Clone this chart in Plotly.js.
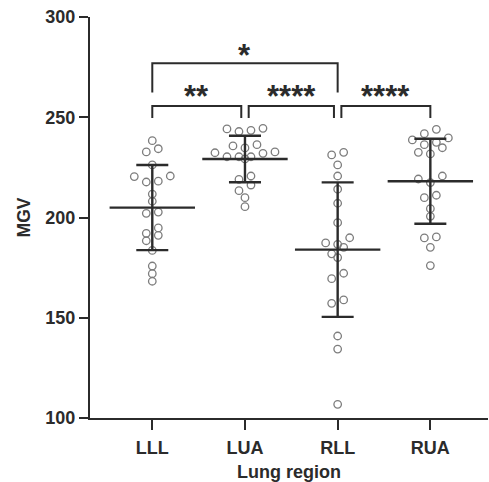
<!DOCTYPE html>
<html>
<head>
<meta charset="utf-8">
<script src="https://cdn.plot.ly/plotly-3.0.1.min.js"></script>
<style>
  html, body { margin: 0; padding: 0; background: #fff; }
  #chart { width: 489px; height: 482px; }
</style>
</head>
<body>
<div id="chart"></div>
<script>
// ---- data ----
const categories = ['LLL', 'LUA', 'RLL', 'RUA'];
const lllValues = [238.3, 232.7, 234.3, 226.2, 220.4, 217.7, 218.1, 220.7, 211.7, 208.1,
                   202.7, 202.1, 194.8, 191.1, 192.1, 188.4, 183.6, 175.8, 172.0, 168.2];
const luaValues = [243.5, 242.9, 244.2, 244.5, 235.7, 232.0, 234.7, 230.3, 236.3, 232.7,
                   230.3, 229.2, 230.3, 232.3, 219.0, 220.7, 216.2, 213.4, 209.9, 205.4];
const rllValues = [231.2, 232.5, 226.2, 220.7, 214.1, 207.1, 197.4, 189.9, 186.6, 181.9,
                   187.3, 185.1, 180.0, 172.2, 169.5, 158.9, 157.2, 140.9, 134.4, 106.8];
const ruaValues = [244.0, 241.8, 237.5, 238.7, 239.7, 236.3, 234.8, 231.7, 232.5, 220.7,
                   217.4, 219.2, 209.9, 211.1, 204.4, 200.6, 189.8, 190.3, 185.1, 176.0];
// significance comparisons: from index, to index, label, bracket level
const compFrom   = [0, 1, 2, 0];
const compTo     = [1, 2, 3, 2];
const compLabel  = ['**', '****', '****', '*'];
const compLevel  = [0, 0, 0, 1];

const groups = [lllValues, luaValues, rllValues, ruaValues];

// ---- styling / layout constants ----
const FONT = 'Liberation Sans, Arial, Helvetica, sans-serif';
const INK = '#2b2b2b';
const DOT = '#7d7d7d';
const X_RANGE = [-0.672, 3.622];
const PLOT_W = 489 - 90 - 1;
const PX_PER_X = PLOT_W / (X_RANGE[1] - X_RANGE[0]);
const SLOT_PX = 12;       // horizontal spacing of dots in a row
const ROW_H = 3.5;        // value span grouped into one row

// row-based dot swarm (computed, not typed)
function swarmOffsets(vals) {
  const order = vals.map((v, i) => i).sort((a, b) => vals[b] - vals[a]);
  const rows = [];
  let cur = null;
  for (const i of order) {
    if (cur && vals[cur[0]] - vals[i] < ROW_H) cur.push(i);
    else { cur = [i]; rows.push(cur); }
  }
  const off = new Array(vals.length).fill(0);
  rows.forEach(r => {
    const n = r.length;
    const slots = [];
    for (let k = 0; k < n; k++) slots.push((k - (n - 1) / 2) * SLOT_PX);
    slots.sort((a, b) => (Math.abs(b) - Math.abs(a)) || (b - a));
    r.forEach((idx, j) => { off[idx] = slots[j] / PX_PER_X; });
  });
  return off;
}

function mean(a) { return a.reduce((s, v) => s + v, 0) / a.length; }
function sd(a) {
  const m = mean(a);
  return Math.sqrt(a.reduce((s, v) => s + (v - m) * (v - m), 0) / (a.length - 1));
}

const traces = [];
groups.forEach((vals, gi) => {
  const off = swarmOffsets(vals);
  traces.push({
    type: 'scatter', mode: 'markers',
    x: vals.map((v, i) => gi + off[i]),
    y: vals,
    marker: { symbol: 'circle-open', size: 7.5, color: DOT, line: { width: 1.3, color: DOT } },
    hoverinfo: 'skip', showlegend: false, cliponaxis: false
  });
});

const means = groups.map(mean);
const sds = groups.map(sd);
traces.push({
  type: 'scatter', mode: 'markers',
  x: categories.map((c, i) => i),
  y: means,
  marker: { symbol: 'line-ew', size: 61, color: INK, line: { width: 2.4, color: INK } },
  error_y: { type: 'data', array: sds, visible: true, thickness: 2.4, width: 16, color: INK },
  hoverinfo: 'skip', showlegend: false, cliponaxis: false
});

// brackets
const levelTop = [255.6, 276.9];
const levelArm = [249.6, 262.3];
const GAP = 0.04;
const shapes = [];
const annotations = [];
compFrom.forEach((f, k) => {
  const t = compTo[k];
  const lv = compLevel[k];
  let x1 = f, x2 = t;
  compFrom.forEach((f2, j) => {
    if (j === k || compLevel[j] !== lv) return;
    if (compTo[j] === f) x1 = f + GAP;
    if (f2 === t) x2 = t - GAP;
  });
  const yT = levelTop[lv], yA = levelArm[lv];
  shapes.push({
    type: 'path', xref: 'x', yref: 'y',
    path: `M ${x1},${yA} L ${x1},${yT} L ${x2},${yT} L ${x2},${yA}`,
    line: { color: INK, width: 2 }
  });
  annotations.push({
    x: (x1 + x2) / 2, y: yT, xref: 'x', yref: 'y',
    text: compLabel[k], showarrow: false,
    xanchor: 'center', yanchor: 'bottom', yshift: lv === 1 ? -12 : -10,
    font: { family: FONT, size: 31, color: INK, weight: 700 }
  });
});

const layout = {
  width: 489, height: 482,
  margin: { l: 90, r: 1, t: 17, b: 64 },
  paper_bgcolor: '#fff', plot_bgcolor: '#fff',
  font: { family: FONT, color: INK },
  showlegend: false,
  xaxis: {
    range: X_RANGE, tickvals: [0, 1, 2, 3], ticktext: categories,
    showline: true, linewidth: 2, linecolor: INK, mirror: false,
    ticks: 'outside', ticklen: 10, tickwidth: 2, tickcolor: INK,
    showgrid: false, zeroline: false, fixedrange: true,
    ticklabelstandoff: 2,
    tickfont: { family: FONT, size: 18, color: INK, weight: 700 },
    title: { text: 'Lung region', standoff: 10, font: { family: FONT, size: 18, color: INK, weight: 700 } }
  },
  yaxis: {
    range: [100, 300], tickvals: [100, 150, 200, 250, 300],
    showline: true, linewidth: 2, linecolor: INK,
    ticks: 'outside', ticklen: 9, tickwidth: 2, tickcolor: INK,
    showgrid: false, zeroline: false, fixedrange: true,
    tickfont: { family: FONT, size: 18, color: INK, weight: 700 },
    title: { text: 'MGV', standoff: 10, font: { family: FONT, size: 17.5, color: INK, weight: 700 } }
  },
  shapes: shapes,
  annotations: annotations
};

Plotly.newPlot('chart', traces, layout, { displayModeBar: false, staticPlot: true });
</script>
</body>
</html>
